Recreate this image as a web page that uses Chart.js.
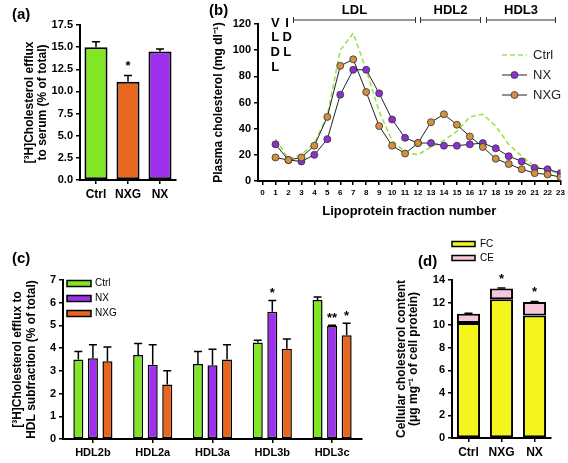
<!DOCTYPE html>
<html>
<head>
<meta charset="utf-8">
<script src="https://cdn.jsdelivr.net/npm/chart.js@4.4.1/dist/chart.umd.min.js"></script>
<style>
  html, body { margin: 0; padding: 0; background: #fff; }
  #fig { position: relative; width: 568px; height: 463px; overflow: hidden; font-family: "Liberation Sans", Arial, sans-serif; }
  #fig canvas { position: absolute; }
  .panel-tag { position: absolute; font-weight: bold; font-size: 15px; line-height: 15px; }
</style>
</head>
<body>
<div id="fig">
  <canvas id="chartA" width="190" height="215" style="left:0;top:0"></canvas>
  <canvas id="chartB" width="378" height="222" style="left:190px;top:0"></canvas>
  <canvas id="chartC" width="380" height="233" style="left:0;top:230px"></canvas>
  <canvas id="chartD" width="188" height="233" style="left:380px;top:230px"></canvas>
  <div class="panel-tag" style="left:12px;top:6px">(a)</div>
  <div class="panel-tag" style="left:209px;top:2px">(b)</div>
  <div class="panel-tag" style="left:12px;top:250px">(c)</div>
  <div class="panel-tag" style="left:418px;top:253px">(d)</div>
</div>
<script>
// (a) efflux to whole serum
const serumGroups = ["Ctrl", "NXG", "NX"];
const serumEfflux = [15.0, 11.1, 14.5];
const serumEffluxErr = [0.6, 0.7, 0.3];
const serumStars = ["", "*", ""];

// (b) FPLC cholesterol profile
const fractions = [1, 2, 3, 4, 5, 6, 7, 8, 9, 10, 11, 12, 13, 14, 15, 16, 17, 18, 19, 20, 21, 22, 23];
const ctrlProfile = [32, 17, 20, 29, 50, 100, 113, 85, 53, 31, 22, 20, 26, 31, 38, 49, 51, 42, 28, 19, 11, 8, 6];
const nxProfile = [28, 16, 15, 20, 32, 66, 85, 85, 67, 47, 33, 29, 29, 27, 27, 28, 29, 25, 19, 15, 10, 9, 6];
const nxgProfile = [18, 16, 18, 27, 49, 88, 93, 68, 42, 27, 21, 29, 45, 51, 43, 34, 26, 17, 13, 9, 6, 5, 3];
const bandNames = ["LDL", "HDL2", "HDL3"];
const bandStart = [2.35, 12.15, 17.25];
const bandEnd = [11.8, 16.8, 22.6];
const vldlLetters = ["V", "L", "D", "L"];
const idlLetters = ["I", "D", "L"];

// (c) efflux to HDL subfractions
const hdlSubfractions = ["HDL2b", "HDL2a", "HDL3a", "HDL3b", "HDL3c"];
const ctrlSub = [3.5, 3.7, 3.3, 4.25, 6.12];
const ctrlSubErr = [0.35, 0.5, 0.55, 0.1, 0.13];
const nxSub = [3.55, 3.27, 3.25, 5.6, 4.97];
const nxSubErr = [0.6, 0.88, 0.7, 0.5, 0.04];
const nxSubStars = ["", "", "", "*", "**"];
const nxgSub = [3.42, 2.4, 3.5, 3.97, 4.57];
const nxgSubErr = [0.63, 0.6, 0.65, 0.43, 0.53];
const nxgSubStars = ["", "", "", "", "*"];

// (d) cellular cholesterol
const cellGroups = ["Ctrl", "NXG", "NX"];
const freeChol = [10.2, 12.3, 10.85];
const esterChol = [0.8, 0.95, 1.2];
const esterErr = [0.05, 0.05, 0.05];
const cellStars = ["", "*", "*"];

const GREEN = "#80e626";
const PURPLE = "#9c30ee";
const ORANGE = "#e8661e";

Chart.defaults.font.family = '"Liberation Sans", Arial, sans-serif';
Chart.defaults.color = "#000";
Chart.defaults.animation = false;
Chart.defaults.plugins.legend.display = false;
Chart.defaults.plugins.tooltip.enabled = false;

function blackGrid(offset) {
  return { drawOnChartArea: false, drawTicks: true, tickLength: 4, color: "#000", lineWidth: 1.5, offset: offset };
}
const blackBorder = { display: true, color: "#000", width: 2 };
const bold = (size) => ({ weight: "bold", size: size });

// error bars (upper half only) and significance stars
const errorBars = {
  id: "errorBars",
  afterDatasetsDraw(chart, args, opts) {
    const ctx = chart.ctx;
    const y = chart.scales.y;
    chart.data.datasets.forEach((ds, i) => {
      if (!ds.err && !ds.stars) return;
      chart.getDatasetMeta(i).data.forEach((bar, j) => {
        const e = ds.err ? ds.err[j] : 0;
        const top = bar.y - (y.getPixelForValue(0) - y.getPixelForValue(e));
        ctx.save();
        ctx.strokeStyle = "#000";
        ctx.lineWidth = opts.width || 1.5;
        if (e) {
          ctx.beginPath();
          ctx.moveTo(bar.x, bar.y);
          ctx.lineTo(bar.x, top);
          ctx.moveTo(bar.x - opts.cap, top);
          ctx.lineTo(bar.x + opts.cap, top);
          ctx.stroke();
        }
        if (ds.stars && ds.stars[j]) {
          ctx.fillStyle = "#000";
          ctx.font = "bold 13px " + Chart.defaults.font.family;
          ctx.textAlign = "center";
          ctx.textBaseline = "alphabetic";
          ctx.fillText(ds.stars[j], bar.x, top - opts.starGap);
        }
        ctx.restore();
      });
    });
  },
};

// free-standing legend drawn from the datasets
const panelLegend = {
  id: "panelLegend",
  afterDraw(chart, args, opts) {
    if (!opts.x) return;
    const ctx = chart.ctx;
    ctx.save();
    ctx.font = opts.font;
    ctx.textBaseline = "middle";
    chart.data.datasets.forEach((ds, i) => {
      const y = opts.y + i * opts.step;
      if (opts.kind === "box") {
        ctx.fillStyle = ds.backgroundColor;
        ctx.fillRect(opts.x, y - opts.h / 2, opts.w, opts.h);
        ctx.strokeStyle = "#000";
        ctx.lineWidth = 1.5;
        ctx.strokeRect(opts.x, y - opts.h / 2, opts.w, opts.h);
      } else {
        ctx.strokeStyle = ds.borderColor;
        ctx.lineWidth = ds.borderWidth;
        ctx.setLineDash(ds.borderDash || []);
        ctx.beginPath();
        ctx.moveTo(opts.x, y);
        ctx.lineTo(opts.x + opts.w, y);
        ctx.stroke();
        ctx.setLineDash([]);
        if (ds.pointRadius > 0) {
          ctx.beginPath();
          ctx.arc(opts.x + opts.w / 2, y, ds.pointRadius, 0, Math.PI * 2);
          ctx.fillStyle = ds.pointBackgroundColor;
          ctx.fill();
          ctx.lineWidth = ds.pointBorderWidth;
          ctx.strokeStyle = ds.pointBorderColor;
          ctx.stroke();
        }
      }
      ctx.fillStyle = opts.textColor || "#000";
      ctx.fillText(ds.label, opts.x + opts.w + opts.gap, y);
    });
    ctx.restore();
  },
};

// lipoprotein class brackets on top of (b)
const fractionBands = {
  id: "fractionBands",
  afterDraw(chart, args, opts) {
    const ctx = chart.ctx;
    const xs = chart.scales.x;
    ctx.save();
    ctx.strokeStyle = "#333";
    ctx.lineWidth = 1;
    ctx.fillStyle = "#000";
    ctx.font = "bold 13px " + Chart.defaults.font.family;
    ctx.textAlign = "center";
    ctx.textBaseline = "middle";
    bandNames.forEach((name, i) => {
      const x1 = Math.round(xs.getPixelForValue(bandStart[i])) + 0.5;
      const x2 = Math.round(xs.getPixelForValue(bandEnd[i])) + 0.5;
      ctx.beginPath();
      ctx.moveTo(x1, opts.y);
      ctx.lineTo(x2, opts.y);
      ctx.moveTo(x1, opts.y - 3);
      ctx.lineTo(x1, opts.y + 3);
      ctx.moveTo(x2, opts.y - 3);
      ctx.lineTo(x2, opts.y + 3);
      ctx.stroke();
      ctx.fillText(name, (x1 + x2) / 2, opts.y - 10);
    });
    vldlLetters.forEach((ch, i) => {
      ctx.fillText(ch, xs.getPixelForValue(0.98), opts.lettersY + i * 14.7);
    });
    idlLetters.forEach((ch, i) => {
      ctx.fillText(ch, xs.getPixelForValue(1.9), opts.lettersY + i * 14.7);
    });
    ctx.restore();
  },
};

const flatTicks = (size) => ({ font: bold(size), padding: 3, autoSkip: false, maxRotation: 0, minRotation: 0 });

// (a)
new Chart(document.getElementById("chartA"), {
  type: "bar",
  data: {
    labels: serumGroups,
    datasets: [
      {
        data: serumEfflux,
        err: serumEffluxErr,
        stars: serumStars,
        backgroundColor: [GREEN, ORANGE, PURPLE],
        borderColor: "#000",
        borderWidth: 2,
        borderSkipped: false,
        barPercentage: 0.72,
        categoryPercentage: 1,
      },
    ],
  },
  options: {
    responsive: false,
    layout: { padding: { top: 25, right: 14, bottom: 0, left: 0 } },
    scales: {
      x: {
        grid: blackGrid(false),
        border: blackBorder,
        ticks: flatTicks(12),
        afterFit: (s) => { s.height = 35; },
      },
      y: {
        min: 0,
        max: 17.5,
        grid: blackGrid(),
        border: blackBorder,
        ticks: { stepSize: 2.5, font: bold(11), callback: (v) => v.toFixed(1) },
        title: {
          display: true,
          text: ["[³H]Cholesterol efflux", "to serum (% of total)"],
          font: { weight: "bold", size: 12, lineHeight: 1.08 },
          padding: { top: 23, bottom: 0 },
        },
        afterFit: (s) => { s.width = 80; },
      },
    },
    plugins: { errorBars: { cap: 4, starGap: 5 } },
  },
  plugins: [errorBars],
});

// (b)
const pointStyle = (color) => ({
  borderColor: "#222",
  borderWidth: 1,
  pointRadius: 3.5,
  pointBackgroundColor: color,
  pointBorderColor: "#333",
  pointBorderWidth: 0.8,
  tension: 0,
});
new Chart(document.getElementById("chartB"), {
  type: "line",
  data: {
    datasets: [
      {
        label: "Ctrl",
        data: fractions.map((f, i) => ({ x: f, y: ctrlProfile[i] })),
        borderColor: "#9de24e",
        borderWidth: 1.6,
        borderDash: [5, 3],
        pointRadius: 0,
        tension: 0,
        order: 3,
      },
      {
        label: "NX",
        data: fractions.map((f, i) => ({ x: f, y: nxProfile[i] })),
        ...pointStyle("#8b2fd0"),
        order: 2,
      },
      {
        label: "NXG",
        data: fractions.map((f, i) => ({ x: f, y: nxgProfile[i] })),
        ...pointStyle("#d39140"),
        order: 1,
      },
    ],
  },
  options: {
    responsive: false,
    layout: { padding: { top: 24, right: 7, bottom: 0, left: 0 } },
    scales: {
      x: {
        type: "linear",
        min: -0.35,
        max: 23,
        grid: blackGrid(),
        border: blackBorder,
        ticks: {
          ...flatTicks(8),
          stepSize: 1,
          includeBounds: false,
          callback: (v) => String(v),
        },
        title: {
          display: true,
          text: "Lipoprotein fraction number",
          font: bold(13),
          padding: { top: 0, bottom: 3 },
        },
        afterFit: (s) => { s.height = 41; },
      },
      y: {
        min: 0,
        max: 120,
        grid: blackGrid(),
        border: blackBorder,
        ticks: { stepSize: 20, font: bold(11) },
        title: {
          display: true,
          text: "Plasma cholesterol (mg dl⁻¹)",
          font: bold(12),
          padding: { top: 21, bottom: 0 },
        },
        afterFit: (s) => { s.width = 68; },
      },
    },
    plugins: {
      panelLegend: { kind: "line", x: 312, y: 55, step: 20, w: 25, gap: 6, font: "13px " + Chart.defaults.font.family, textColor: "#222" },
      fractionBands: { y: 20, lettersY: 23 },
    },
  },
  plugins: [panelLegend, fractionBands],
});

// (c)
const subBar = (label, color, values, err, stars) => ({
  label: label,
  data: values,
  err: err,
  stars: stars,
  backgroundColor: color,
  borderColor: "#000",
  borderWidth: 1.5,
  borderSkipped: false,
  barPercentage: 0.69,
  categoryPercentage: 0.73,
});
new Chart(document.getElementById("chartC"), {
  type: "bar",
  data: {
    labels: hdlSubfractions,
    datasets: [
      subBar("Ctrl", GREEN, ctrlSub, ctrlSubErr, null),
      subBar("NX", PURPLE, nxSub, nxSubErr, nxSubStars),
      subBar("NXG", ORANGE, nxgSub, nxgSubErr, nxgSubStars),
    ],
  },
  options: {
    responsive: false,
    layout: { padding: { top: 50, right: 18, bottom: 0, left: 0 } },
    scales: {
      x: {
        grid: blackGrid(false),
        border: blackBorder,
        ticks: flatTicks(11),
        afterFit: (s) => { s.height = 24; },
      },
      y: {
        min: 0,
        max: 7,
        grid: blackGrid(),
        border: blackBorder,
        ticks: { stepSize: 1, font: bold(11) },
        title: {
          display: true,
          text: ["[³H]Cholesterol efflux to", "HDL subfraction (% of total)"],
          font: { weight: "bold", size: 12, lineHeight: 1.2 },
          padding: { top: 10, bottom: 0 },
        },
        afterFit: (s) => { s.width = 63; },
      },
    },
    plugins: {
      errorBars: { cap: 4, starGap: 3 },
      panelLegend: { kind: "box", x: 67, y: 53.5, step: 15, w: 24, h: 6, gap: 4, font: "10px " + Chart.defaults.font.family },
    },
  },
  plugins: [errorBars, panelLegend],
});

// (d)
new Chart(document.getElementById("chartD"), {
  type: "bar",
  data: {
    labels: cellGroups,
    datasets: [
      {
        label: "FC",
        data: freeChol,
        backgroundColor: "#f5f51e",
        borderColor: "#000",
        borderWidth: 2,
        borderSkipped: false,
        barPercentage: 0.7,
        categoryPercentage: 1,
      },
      {
        label: "CE",
        data: esterChol,
        err: esterErr,
        stars: cellStars,
        backgroundColor: "#f6c6dd",
        borderColor: "#000",
        borderWidth: 2,
        borderSkipped: false,
        barPercentage: 0.7,
        categoryPercentage: 1,
      },
    ],
  },
  options: {
    responsive: false,
    layout: { padding: { top: 50, right: 17, bottom: 0, left: 0 } },
    scales: {
      x: {
        stacked: true,
        grid: blackGrid(false),
        border: blackBorder,
        ticks: flatTicks(12),
        afterFit: (s) => { s.height = 25; },
      },
      y: {
        stacked: true,
        min: 0,
        max: 14,
        grid: blackGrid(),
        border: blackBorder,
        ticks: { stepSize: 2, font: bold(11) },
        title: {
          display: true,
          text: ["Cellular cholesterol content", "(μg mg⁻¹ of cell protein)"],
          font: { weight: "bold", size: 12, lineHeight: 1.05 },
          padding: { top: 15, bottom: 0 },
        },
        afterFit: (s) => { s.width = 72; },
      },
    },
    plugins: {
      errorBars: { cap: 4, starGap: 5 },
      panelLegend: { kind: "box", x: 72, y: 14, step: 14, w: 23, h: 5, gap: 5, font: "10px " + Chart.defaults.font.family },
    },
  },
  plugins: [errorBars, panelLegend],
});
</script>
</body>
</html>
